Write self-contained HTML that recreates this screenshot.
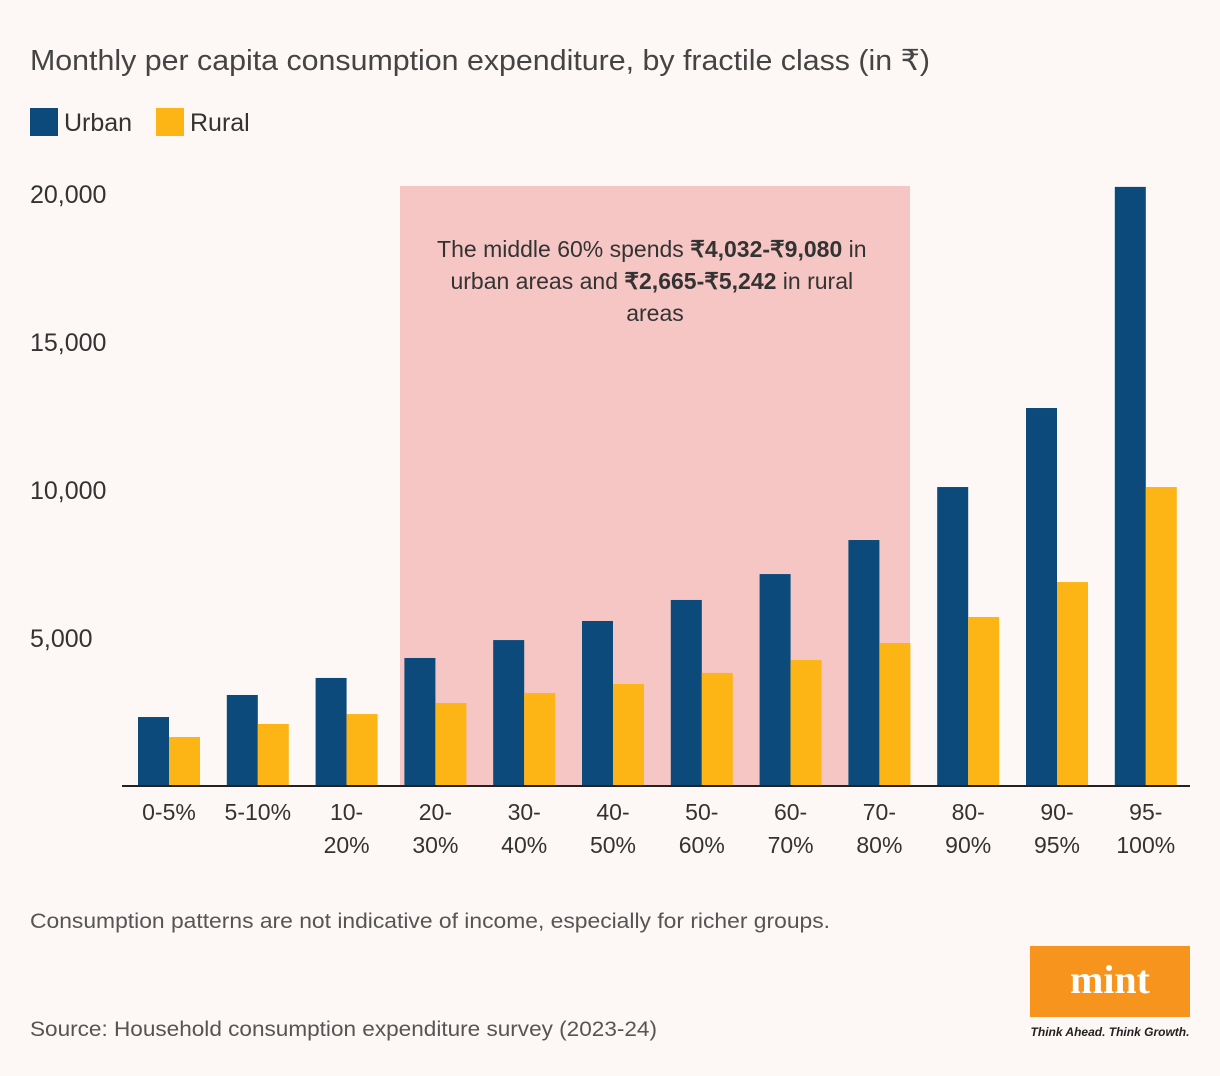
<!DOCTYPE html>
<html><head><meta charset="utf-8"><style>
body{margin:0;background:#fdf7f5;font-family:"Liberation Sans",sans-serif;}
#c{position:relative;width:1220px;height:1076px;overflow:hidden;background:#fdf7f5;}
</style></head><body>
<div id="c">
<svg id="s" width="1220" height="1076" xmlns="http://www.w3.org/2000/svg">
<text x="30" y="70" font-size="29" fill="#444" textLength="900" lengthAdjust="spacingAndGlyphs">Monthly per capita consumption expenditure, by fractile class (in ₹)</text>
<rect x="30" y="108" width="28" height="28" fill="#0b4a7a"/>
<text x="64" y="131" font-size="25" fill="#333">Urban</text>
<rect x="156" y="108" width="28" height="28" fill="#fdb515"/>
<text x="190" y="131" font-size="25" fill="#333">Rural</text>
<rect x="400" y="186" width="510" height="600" fill="#f5c6c4"/>
<text text-anchor="middle" font-size="23" fill="#333">
<tspan x="655" y="257">The middle 60% spends <tspan font-weight="bold">₹4,032-₹9,080</tspan> in</tspan>
<tspan x="655" y="289">urban areas and <tspan font-weight="bold">₹2,665-₹5,242</tspan> in rural</tspan>
<tspan x="655" y="321">areas</tspan></text>
<g id="bars"></g><g id="ticks"></g><g id="xl"></g>
<line x1="122" y1="786" x2="1190" y2="786" stroke="#222" stroke-width="2"/>
<text x="30" y="928" font-size="21" fill="#555" textLength="800" lengthAdjust="spacingAndGlyphs">Consumption patterns are not indicative of income, especially for richer groups.</text>
<text x="30" y="1036" font-size="21" fill="#555" textLength="627" lengthAdjust="spacingAndGlyphs">Source: Household consumption expenditure survey (2023-24)</text>
<rect x="1030" y="946" width="160" height="71" fill="#f7941d"/>
<text x="1110" y="993" text-anchor="middle" font-size="40" font-weight="bold" fill="#fff" font-family="Liberation Serif,serif">mint</text>
<text x="1110" y="1036" text-anchor="middle" font-size="12" font-weight="bold" font-style="italic" fill="#222">Think Ahead. Think Growth.</text>
</svg></div>
<script>
const categories=[["0-5%"],["5-10%"],["10-","20%"],["20-","30%"],["30-","40%"],["40-","50%"],["50-","60%"],["60-","70%"],["70-","80%"],["80-","90%"],["90-","95%"],["95-","100%"]];
const urban=[2330,3075,3650,4325,4930,5575,6285,7160,8310,10100,12770,20240];
const rural=[1655,2095,2430,2805,3140,3445,3820,4255,4830,5710,6890,10100];
const yTicks=[5000,10000,15000,20000];
const yTickLabels=["5,000","10,000","15,000","20,000"];
const NS="http://www.w3.org/2000/svg";
const y=v=>786-v*0.0296;
const x=i=>138+i*88.8;
const bw=31;
const bars=document.getElementById('bars'),tk=document.getElementById('ticks'),xl=document.getElementById('xl');
function mk(tag,a,p){const e=document.createElementNS(NS,tag);for(const k in a)e.setAttribute(k,a[k]);p.appendChild(e);return e;}
categories.forEach((c,i)=>{
 let r=mk('rect',{x:x(i),y:y(urban[i]),width:bw,height:786-y(urban[i]),fill:'#0b4a7a'},bars);
 
 
 let q=mk('rect',{x:x(i)+bw,y:y(rural[i]),width:bw,height:786-y(rural[i]),fill:'#fdb515'},bars);
 
 
 c.forEach((l,j)=>{
  let t=mk('text',{x:x(i)+bw,y:820+j*33,'text-anchor':'middle','font-size':23,fill:'#333'},xl);
  t.textContent=l;
  
  
 });
});
yTicks.forEach((v,i)=>{
 let t=mk('text',{x:30,y:y(v)+9,'font-size':25,fill:'#333'},tk);
 t.textContent=yTickLabels[i];
 
 
});
</script>
</body></html>
